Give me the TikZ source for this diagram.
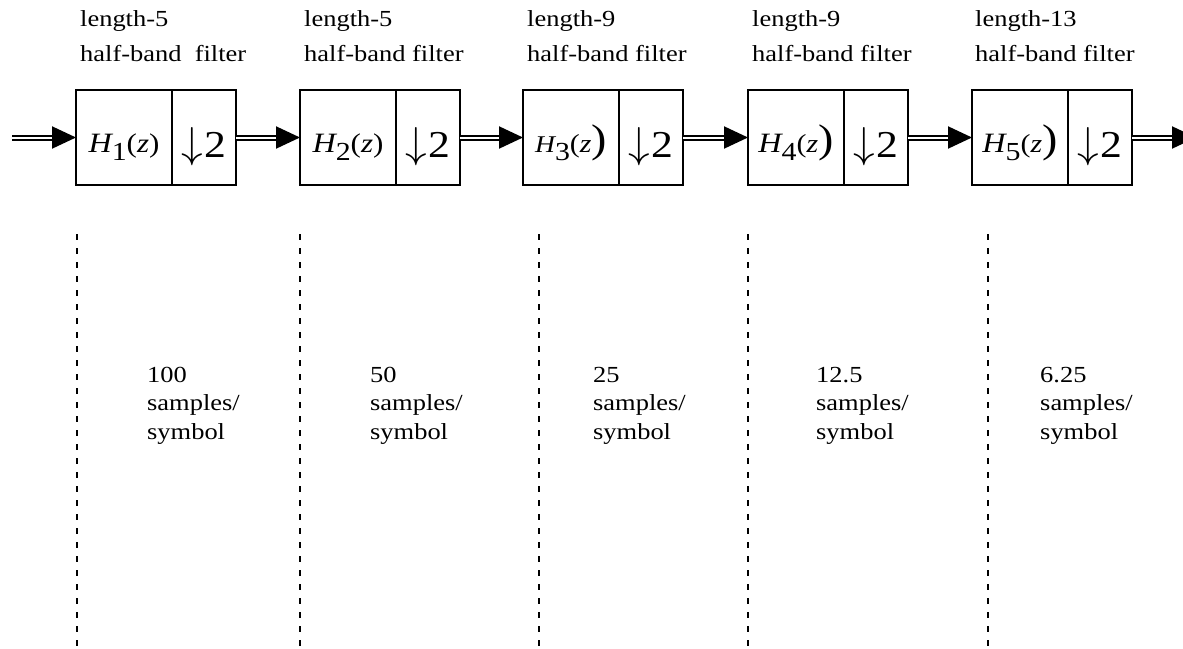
\documentclass[tikz,border=0pt]{standalone}
\usepackage{fontspec}
\usepackage{graphicx}
\setmainfont{Liberation Serif}[FakeStretch=1.15]
\usetikzlibrary{arrows.meta}
\newcommand{\Hz}[1]{{\fontsize{28}{28}\selectfont\itshape H}\raisebox{-8pt}{\fontsize{26}{26}\selectfont #1}{\fontsize{27}{27}\selectfont(\textit{z})}}
\newcommand{\Hzb}[2]{{\fontsize{#2}{#2}\selectfont\itshape H}\raisebox{-8pt}{\fontsize{26}{26}\selectfont #1}{\fontsize{26}{26}\selectfont(\textit{z}}{\fontsize{40}{40}\selectfont)}}
\newcommand{\dn}{\resizebox{!}{30pt}{$\downarrow$}\kern1pt 2}
\begin{document}
\begin{tikzpicture}[x=1pt,y=-1pt,
  blk/.style={draw, line width=2pt, minimum height=95pt, inner sep=0pt, outer sep=0pt, anchor=north west},
  hbox/.style={blk, minimum width=96pt, text height=29pt, text depth=0pt},
  dbox/.style={blk, minimum width=64pt, text height=39pt, text depth=0pt, font=\fontsize{38}{38}\selectfont},
  dbl/.style={double, double distance=2pt, line width=2pt, -{Triangle[length=24pt,width=22pt]}},
  toplbl/.style={anchor=base west, align=left, inner sep=0pt, font=\fontsize{23}{35}\selectfont},
  ratelbl/.style={anchor=base west, align=left, inner sep=0pt, font=\fontsize{23}{28.5}\selectfont},
  sep/.style={line width=2pt, dash pattern=on 6pt off 8pt}
]
\useasboundingbox (0,0) rectangle (1183,648);

% boxes
\node[hbox] (h1) at (76,90) {\Hz{1}};
\node[dbox] (d1) at (172,90) {\dn};
\node[hbox] (h2) at (300,90) {\Hz{2}};
\node[dbox] (d2) at (396,90) {\dn};
\node[hbox] (h3) at (523,90) {\Hzb{3}{24}};
\node[dbox] (d3) at (619,90) {\dn};
\node[hbox] (h4) at (748,90) {\Hzb{4}{28}};
\node[dbox] (d4) at (844,90) {\dn};
\node[hbox] (h5) at (972,90) {\Hzb{5}{28}};
\node[dbox] (d5) at (1068,90) {\dn};

% arrows
\coordinate (in) at (12,137.5);
\coordinate (out) at (1196,137.5);
\draw[dbl] (in) -- (h1.west);
\draw[dbl] (d1.east) -- (h2.west);
\draw[dbl] (d2.east) -- (h3.west);
\draw[dbl] (d3.east) -- (h4.west);
\draw[dbl] (d4.east) -- (h5.west);
\draw[dbl] (d5.east) -- (out);

% top labels
\node[toplbl] (t1) at (80,61) {length-5\\half-band\ \ filter};
\node[toplbl] (t2) at (304,61) {length-5\\half-band filter};
\node[toplbl] (t3) at (527,61) {length-9\\half-band filter};
\node[toplbl] (t4) at (752,61) {length-9\\half-band filter};
\node[toplbl] (t5) at (975,61) {length-13\\half-band filter};

% dashed separators
\foreach \x/\n in {77/1,300/2,539/3,748/4,988/5}{
  \coordinate (s\n a) at (\x,234);
  \coordinate (s\n b) at (\x,648);
  \draw[sep] (s\n a) -- (s\n b);
}

% rate labels
\node[ratelbl] (r1) at (147,439) {100\\samples/\\symbol};
\node[ratelbl] (r2) at (370,439) {50\\samples/\\symbol};
\node[ratelbl] (r3) at (593,439) {25\\samples/\\symbol};
\node[ratelbl] (r4) at (816,439) {12.5\\samples/\\symbol};
\node[ratelbl] (r5) at (1040,439) {6.25\\samples/\\symbol};
\end{tikzpicture}
\end{document}
